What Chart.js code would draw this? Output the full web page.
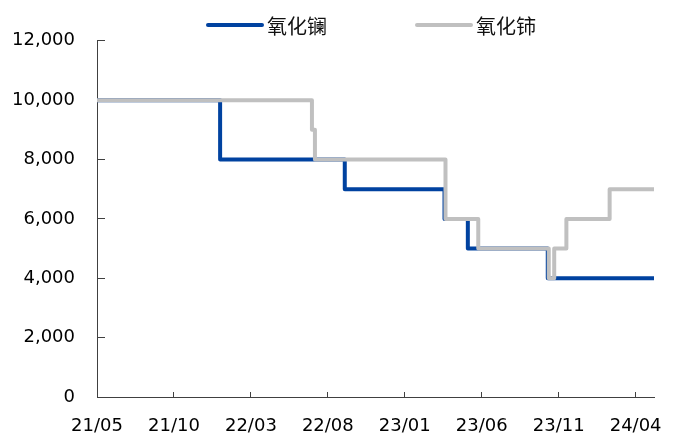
<!DOCTYPE html>
<html>
<head>
<meta charset="utf-8">
<script src="https://cdn.jsdelivr.net/npm/chart.js@4.4.1/dist/chart.umd.min.js"></script>
<style>
  body { margin: 0; background: #fff; }
  #wrap { width: 678px; height: 441px; }
</style>
</head>
<body>
<div id="wrap"><canvas id="chart"></canvas></div>
<script>
// price steps (date of change -> new level)
const seriesNames = ['氧化镧', '氧化铈']
const laDates = ['2021-05-01', '2022-01-01', '2022-09-04', '2023-03-19', '2023-05-04', '2023-10-10', '2024-05-07']
const laValues = [10000, 8000, 7000, 6000, 5000, 4000, 4000]
const ceDates = ['2021-05-01', '2022-06-30', '2022-07-06', '2023-03-21', '2023-05-25', '2023-10-12', '2023-10-23', '2023-11-16', '2024-02-10', '2024-05-07']
const ceValues = [10000, 9000, 8000, 6000, 5000, 4000, 5000, 6000, 7000, 7000]
const xTickLabels = ['21/05', '21/10', '22/03', '22/08', '23/01', '23/06', '23/11', '24/04']
const yTicks = [0, 2000, 4000, 6000, 8000, 10000, 12000]

const colors = ['#0042a0', '#c0c0c0']
const font = { family: 'DejaVu Sans', size: 18 }

// months since 2021/05
const toMonth = (s) => {
  const [y, m, d] = s.split('-').map(Number)
  const days = new Date(y, m, 0).getDate()
  return (y - 2021) * 12 + (m - 5) + (d - 1) / days
}
const labelToMonth = (l) => {
  const [yy, mm] = l.split('/').map(Number)
  return (yy - 21) * 12 + (mm - 5)
}
const toPoints = (dates, values) => dates.map((d, i) => ({ x: toMonth(d), y: values[i] }))

const lastX = Math.max(toMonth(laDates[laDates.length - 1]), toMonth(ceDates[ceDates.length - 1]))

const lineLegend = {
  id: 'lineLegend',
  afterDraw(chart) {
    const ctx = chart.ctx
    const pos = [208, 417]
    ctx.save()
    seriesNames.forEach((name, i) => {
      const x = pos[i]
      ctx.strokeStyle = colors[i]
      ctx.lineWidth = 4
      ctx.lineCap = 'round'
      ctx.beginPath()
      ctx.moveTo(x, 25)
      ctx.lineTo(x + 54, 25)
      ctx.stroke()
      ctx.fillStyle = '#111'
      ctx.font = '20px "Noto Sans CJK SC"'
      ctx.textBaseline = 'middle'
      ctx.fillText(name, x + 59, 26)
    })
    ctx.restore()
  },
}

new Chart(document.getElementById('chart'), {
  type: 'line',
  data: {
    datasets: [
      {
        label: seriesNames[0],
        data: toPoints(laDates, laValues),
        borderColor: colors[0],
        backgroundColor: colors[0],
        borderWidth: 4,
        stepped: true,
        pointRadius: 0,
        borderJoinStyle: 'round',
        borderCapStyle: 'round',
        order: 1,
      },
      {
        label: seriesNames[1],
        data: toPoints(ceDates, ceValues),
        borderColor: colors[1],
        backgroundColor: colors[1],
        borderWidth: 4,
        stepped: true,
        pointRadius: 0,
        borderJoinStyle: 'round',
        borderCapStyle: 'round',
        order: 0,
      },
    ],
  },
  options: {
    responsive: true,
    maintainAspectRatio: false,
    animation: false,
    layout: { padding: { top: 39, right: 24, left: 0, bottom: 0 } },
    plugins: {
      legend: { display: false },
      tooltip: { enabled: false },
    },
    scales: {
      x: {
        type: 'linear',
        min: 0,
        max: lastX,
        afterBuildTicks: (scale) => {
          scale.ticks = xTickLabels.map((l) => ({ value: labelToMonth(l) }))
        },
        afterFit: (scale) => {
          scale.height = 44
          scale.paddingLeft = 0
          scale.paddingRight = 0
        },
        ticks: {
          callback: (v) => xTickLabels.find((l) => labelToMonth(l) === v) || '',
          color: '#000',
          font: font,
          padding: 24,
          maxRotation: 0,
          autoSkip: false,
        },
        grid: { drawOnChartArea: false, tickLength: -5, color: '#404040' },
        border: { color: '#404040', width: 1 },
      },
      y: {
        min: 0,
        max: 12000,
        afterBuildTicks: (scale) => {
          scale.ticks = yTicks.map((v) => ({ value: v }))
        },
        afterFit: (scale) => { scale.width = 97 },
        ticks: {
          callback: (v) => v.toLocaleString('en-US'),
          color: '#000',
          font: font,
          padding: 30,
        },
        grid: { drawOnChartArea: false, tickLength: -8, color: '#404040' },
        border: { color: '#404040', width: 1 },
      },
    },
  },
  plugins: [lineLegend],
})
</script>
</body>
</html>
